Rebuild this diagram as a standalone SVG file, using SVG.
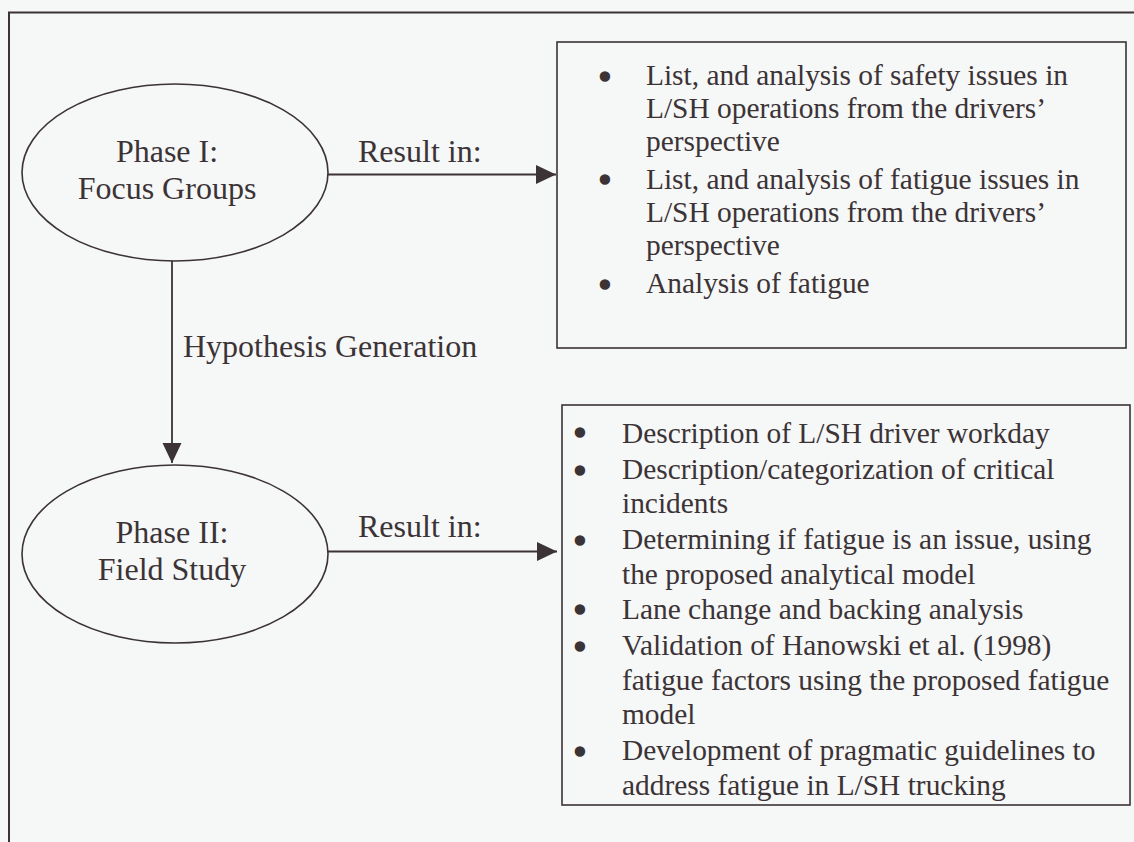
<svg xmlns="http://www.w3.org/2000/svg" width="1134" height="842" viewBox="0 0 1134 842">
<defs>
<marker id="arr" markerWidth="20" markerHeight="20" viewBox="0 0 20 20" refX="20" refY="10" orient="auto" markerUnits="userSpaceOnUse">
<path d="M0,0.5 L20,10 L0,19.5 Z" fill="#3b3336"/>
</marker>
<style>
.bg{fill:#f6f7f7}
.frame{fill:none;stroke:#3b3336;stroke-width:2}
.shape{fill:none;stroke:#3b3336;stroke-width:1.6}
.conn{fill:none;stroke:#3b3336;stroke-width:1.8}
.lbl{font-family:"Liberation Serif","Times New Roman",serif;font-size:32px;fill:#3b3336}
.itm{font-family:"Liberation Serif","Times New Roman",serif;font-size:29.4px;fill:#3b3336}
.bul{font-family:"Liberation Serif","Times New Roman",serif;font-size:29.4px;fill:#3b3336;stroke:#3b3336;stroke-width:3.4;stroke-linejoin:round;text-anchor:middle}
.mid{text-anchor:middle}
</style>
</defs>
<rect class="bg" x="0" y="0" width="1134" height="842"/>
<path class="frame" d="M9,850 L9,12.5 L1140,12.5"/>
<g id="connectors">
<line class="conn" x1="328" y1="174.5" x2="556" y2="174.5" marker-end="url(#arr)"/>
<line class="conn" x1="172" y1="261" x2="172" y2="463" marker-end="url(#arr)"/>
<line class="conn" x1="328" y1="551.5" x2="557" y2="551.5" marker-end="url(#arr)"/>
<text class="lbl" x="358" y="162">Result in:</text>
<text class="lbl" x="183" y="357">Hypothesis Generation</text>
<text class="lbl" x="358" y="537">Result in:</text>
</g>
<g id="phase1">
<ellipse class="shape" cx="175" cy="172.5" rx="153" ry="88.5"/>
<text class="lbl mid" x="167" y="162">Phase I:</text>
<text class="lbl mid" x="167" y="199">Focus Groups</text>
</g>
<g id="phase2">
<ellipse class="shape" cx="175" cy="554" rx="153" ry="89"/>
<text class="lbl mid" x="172" y="543">Phase II:</text>
<text class="lbl mid" x="172" y="580">Field Study</text>
</g>
<g id="results1">
<rect class="shape" x="557" y="42" width="569" height="306"/>
<text class="bul" x="605" y="86.5">•</text>
<text class="itm" x="646" y="85">List, and analysis of safety issues in</text>
<text class="itm" x="646" y="118">L/SH operations from the drivers’</text>
<text class="itm" x="646" y="151">perspective</text>
<text class="bul" x="605" y="190">•</text>
<text class="itm" x="646" y="189">List, and analysis of fatigue issues in</text>
<text class="itm" x="646" y="222">L/SH operations from the drivers’</text>
<text class="itm" x="646" y="255">perspective</text>
<text class="bul" x="605" y="295">•</text>
<text class="itm" x="646" y="293">Analysis of fatigue</text>
</g>
<g id="results2">
<rect class="shape" x="562" y="405" width="568" height="400"/>
<text class="bul" x="580" y="443">•</text>
<text class="itm" x="622" y="443">Description of L/SH driver workday</text>
<text class="bul" x="580" y="480.5">•</text>
<text class="itm" x="622" y="479">Description/categorization of critical</text>
<text class="itm" x="622" y="513">incidents</text>
<text class="bul" x="580" y="550.5">•</text>
<text class="itm" x="622" y="549">Determining if fatigue is an issue, using</text>
<text class="itm" x="622" y="584">the proposed analytical model</text>
<text class="bul" x="580" y="620">•</text>
<text class="itm" x="622" y="619">Lane change and backing analysis</text>
<text class="bul" x="580" y="656.5">•</text>
<text class="itm" x="622" y="655">Validation of Hanowski et al. (1998)</text>
<text class="itm" x="622" y="690">fatigue factors using the proposed fatigue</text>
<text class="itm" x="622" y="724">model</text>
<text class="bul" x="580" y="762">•</text>
<text class="itm" x="622" y="760">Development of pragmatic guidelines to</text>
<text class="itm" x="622" y="795">address fatigue in L/SH trucking</text>
</g>
</svg>
